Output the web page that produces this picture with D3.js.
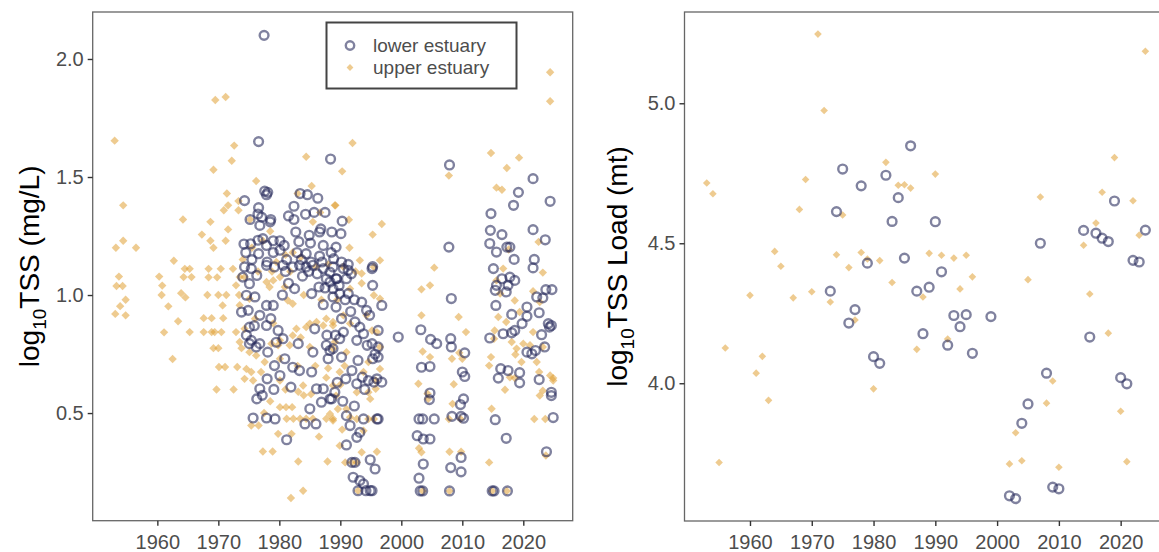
<!DOCTYPE html>
<html>
<head>
<meta charset="utf-8">
<script src="https://cdn.jsdelivr.net/npm/d3@7"></script>
<style>
  html, body { margin: 0; padding: 0; background: #fff; }
  svg { display: block; font-family: "Liberation Sans", Arial, Helvetica, sans-serif; }
</style>
</head>
<body>
<svg id="chart" width="1159" height="552"></svg>
<script>
// ---- data: [year, log10 value] ----
const lowerTSS = [
  [1977.5,2.10],[1976.6,1.65],[1988.4,1.576],[1974.3,1.40],[1977.6,1.44],[1978.1,1.435],[1977.9,1.425],[1976.6,1.37],
  [1983.4,1.43],[1984.6,1.425],[1986.3,1.41],[1982.4,1.376],[1984.3,1.342],[1985.7,1.35],[1987.5,1.35],[1975.2,1.32],
  [1976.5,1.343],[1977.1,1.33],[1978.6,1.32],[1981.5,1.335],[1976.8,1.295],[1978.5,1.31],[1986.8,1.28],[1982.4,1.32],
  [1982.7,1.267],[1986.6,1.267],[1988.6,1.267],[1984.9,1.253],[1974.2,1.216],[1975.3,1.217],[1976.5,1.232],[1977.3,1.239],
  [1977.9,1.21],[1979.0,1.23],[1980.1,1.23],[1980.8,1.21],[1983.2,1.226],[1985.1,1.22],[1987.2,1.21],[1974.5,1.18],
  [1976.6,1.175],[1979.0,1.18],[1980.1,1.19],[1981.2,1.15],[1982.9,1.18],[1984.4,1.175],[1986.6,1.165],[1988.5,1.18],
  [1975.5,1.15],[1978.0,1.14],[1983.6,1.15],[1985.2,1.14],[1987.0,1.14],
  [2007.9,1.551],[2007.8,1.203],[2021.6,1.493],[2019.2,1.435],[2018.4,1.38],[2024.4,1.397],[2014.7,1.345],[2014.6,1.274],
  [2016.5,1.256],[2014.5,1.218],[2017.3,1.203],[2017.8,1.203],[2021.6,1.277],[2023.6,1.234],[2015.6,1.182],[2018.5,1.151],
  [2021.8,1.151],[1990.3,1.313],[1990.1,1.26],[1989.3,1.203],[1995.3,1.12],[1990.2,1.14],[1991.3,1.13],[1988.9,1.154],
  [1974.3,1.119],[1975.4,1.112],[1976.3,1.083],[1977.9,1.126],[1979.2,1.119],[1980.6,1.126],[1982.2,1.119],[1983.3,1.126],
  [1984.4,1.119],[1985.5,1.126],[1987.2,1.112],[1988.3,1.097],[1989.3,1.069],[1987.7,1.069],[1975.1,1.048],[1974.0,1.076],
  [1974.6,0.999],[1976.0,0.992],[1973.8,0.928],[1974.9,0.935],[1977.9,0.956],[1979.0,0.956],[1982.5,1.027],[1985.3,1.006],
  [1986.5,1.034],[1987.2,0.959],[1988.8,0.992],[1989.3,0.949],[1976.8,0.914],[1975.1,0.864],[1977.9,0.871],[1979.8,0.850],
  [1983.1,0.794],[1980.6,0.815],[1985.8,0.857],[1985.5,0.758],[1975.4,0.808],[1976.8,0.794],[1975.1,0.794],[1978.1,0.758],
  [1979.2,0.701],[1980.9,0.730],[1980.1,0.659],[1982.2,0.694],[1983.3,0.680],[1985.3,0.674],[1978.0,0.645],[1979.1,0.600],
  [1981.9,0.610],[1976.8,0.603],[1976.3,0.560],[1977.2,0.575],[1986.1,0.603],[1987.2,0.603],[1988.3,0.560],[1986.9,0.546],
  [1985.0,0.518],[1975.7,0.479],[1977.9,0.479],[1979.3,0.475],[1984.2,0.454],[1986.0,0.454],[1981.2,0.387],[1988.3,0.765],
  [1987.7,0.787],
  [1981.0,1.10],[1981.5,1.05],[1980.5,1.00],[1983.8,1.08],[1984.8,1.10],[1986.2,1.09],[1987.5,1.03],[1989.8,1.04],
  [1990.8,0.98],[1990.2,0.90],[1991.7,0.93],[1992.3,0.98],[1991.8,1.09],[1989.2,0.83],[1987.8,0.83],[1974.6,0.83],
  [1975.9,0.87],[1976.2,0.78],[1978.6,0.90],[1979.5,0.80],[1988.0,0.73],[1989.5,0.63],[1990.4,0.55],[1992.3,0.53],
  [1995.7,0.75],[1994.0,0.60],
  [1988.8,1.119],[1990.5,1.112],[1991.3,1.105],[1989.4,1.069],[1991.0,1.069],[1988.3,1.055],[1988.8,1.027],[1989.9,1.006],
  [1991.3,1.006],[1995.2,1.112],[1995.3,1.041],[1993.5,0.970],[1994.3,0.935],[1994.8,0.914],[1996.8,0.956],[1992.4,0.886],
  [1993.2,0.864],[1990.5,0.843],[1989.9,0.815],[1993.8,0.836],[1995.2,0.794],[1996.2,0.850],[1992.7,0.808],[1994.4,0.787],
  [1996.2,0.780],[1988.8,0.773],[1990.2,0.737],[1992.9,0.723],[1995.3,0.730],[1996.2,0.737],[1991.9,0.680],[1990.9,0.645],
  [1993.6,0.652],[1994.6,0.638],[1996.0,0.645],[1995.5,0.631],[1992.7,0.624],[1996.8,0.631],[1989.1,0.588],[1988.6,0.560],
  [1991.0,0.489],[1993.8,0.475],[1996.0,0.475],[1996.2,0.475],[1991.6,0.447],[1993.2,0.418],[1992.7,0.397],[1991.0,0.365],
  [1991.9,0.291],[1992.4,0.291],[1994.9,0.302],[1995.7,0.263],[1992.1,0.228],[1993.2,0.214],[1993.8,0.200],[1992.9,0.171],
  [1994.2,0.171],[1994.9,0.171],[1995.2,0.171],
  [1999.5,0.822],
  [2003.2,0.853],[2004.8,0.812],[2005.8,0.794],[2003.3,0.694],[2004.7,0.697],[2002.9,0.475],[2003.5,0.475],[2005.4,0.475],
  [2002.6,0.404],[2003.6,0.390],[2004.7,0.390],[2003.6,0.284],[2002.9,0.224],[2003.1,0.170],[2003.5,0.170],[2004.7,0.585],
  [2004.6,0.557],
  [2008.2,0.985],[2008.1,0.815],[2008.2,0.780],[2008.3,0.486],[2009.8,0.486],[2010.2,0.478],[2010.4,0.755],[2010.4,0.655],
  [2010.0,0.674],[2010.2,0.560],[2009.7,0.536],[2009.8,0.312],[2009.8,0.251],[2008.1,0.269],[2007.9,0.170],
  [2015.1,1.112],[2016.5,1.069],[2017.8,1.076],[2018.6,1.062],[2015.6,1.041],[2015.4,1.020],[2017.5,1.041],[2017.2,1.013],
  [2015.5,0.956],[2018.1,0.918],[2020.6,0.949],[2022.6,0.925],[2020.6,0.910],[2019.8,0.879],[2018.6,0.850],[2018.1,0.840],
  [2016.7,0.836],[2014.5,0.818],[2023.0,0.832],[2024.6,0.871],[2024.1,0.879],[2024.3,0.864],[2022.2,0.992],[2023.2,0.988],
  [2023.7,1.023],[2024.7,1.023],[2021.6,1.115],[2023.5,0.780],[2020.6,0.758],[2022.0,0.765],[2021.4,0.751],[2016.3,0.688],
  [2017.5,0.680],[2015.9,0.648],[2019.4,0.671],[2019.4,0.628],[2022.6,0.642],[2024.6,0.588],[2024.6,0.574],[2015.4,0.472],
  [2024.9,0.481],[2017.2,0.393],[2023.8,0.336],[2014.9,0.170],[2015.2,0.170],[2017.4,0.170]
];

const upperTSS = [
  [1969.5,1.826],[1971.2,1.839],[1953.0,1.654],[1972.6,1.633],[1972.2,1.569],[1984.4,1.586],[1969.2,1.531],[1976.2,1.483],
  [1985.3,1.462],[1971.4,1.43],[1954.4,1.38],[1971.6,1.38],[1970.9,1.359],[1973.3,1.398],[1973.3,1.359],[1983.0,1.43],
  [1964.2,1.32],[1968.7,1.31],[1971.6,1.278],[1967.3,1.256],[1954.4,1.23],[1953.2,1.20],[1956.5,1.20],[1968.7,1.23],
  [1969.2,1.20],[1971.2,1.23],[1962.7,1.145],[1975.2,1.32],[1978.5,1.27],[1985.5,1.31],[1986.7,1.35],[1989.1,1.38],
  [1977.3,1.23],[1982.2,1.18],
  [1992.0,1.644],[1990.3,1.524],[2024.4,1.944],[2024.4,1.821],[2014.7,1.602],[2019.3,1.582],[2017.3,1.538],[2007.8,1.506],
  [2015.6,1.455],[2016.5,1.446],[1989.2,1.380],[1996.8,1.301],[1995.3,1.256],[1991.4,1.319],[2022.5,1.225],[1993.2,1.147],
  [1996.5,1.147],[2017.6,1.193],[2005.4,1.116],
  [1953.7,1.078],[1953.3,1.038],[1954.3,1.038],[1954.8,0.98],[1953.9,0.953],[1953.1,0.92],[1954.8,0.914],
  [1960.3,1.078],[1960.8,1.04],[1960.7,1.0],[1961.8,0.952],[1963.4,0.889],[1961.1,0.842],[1962.5,0.729],
  [1963.9,1.008],[1964.6,0.99],[1964.5,1.111],[1965.3,1.111],[1964.3,1.076],[1965.6,1.076],[1965.3,0.843],
  [1967.6,0.902],[1968.9,0.902],[1967.6,0.843],[1968.9,0.843],[1970.5,0.843],[1969.4,0.843],
  [1968.4,1.111],[1970.4,1.111],[1968.4,1.075],[1969.8,1.075],[1968.2,1.0],[1970.0,1.0],[1971.3,1.0],
  [1970.7,0.956],[1970.8,0.902],[1969.2,0.775],[1970.0,0.775],[1970.1,0.695],[1971.1,0.695],[1969.7,0.6],[1972.5,0.6],
  [1972.4,1.111],[1973.5,1.076],[1972.9,1.041],[1973.4,1.0],[1973.5,0.957],[1972.9,0.843],[1973.8,0.775],[1973.1,0.695],
  [1975.4,0.447],[1976.6,0.447],[1977.3,0.337],[1978.9,0.337],[1979.8,0.412],[1982.0,0.412],[1981.9,0.14],[1983.9,0.171],
  [1983.1,0.295],[1987.9,0.295],[1980.1,0.525],[1981.1,0.525],[1982.1,0.525],
  [1981.2,0.476],[1982.3,0.476],[1983.4,0.476],[1984.4,0.476],[1985.5,0.476],[1987.7,0.476],[1988.8,0.476],
  [1987.7,0.65],[1983.1,0.59],[1984.0,0.575],
  [1977.9,1.055],[1978.4,1.034],[1979.0,1.062],[1980.1,1.076],[1980.9,1.034],[1981.4,0.977],[1982.2,0.963],[1982.8,0.857],
  [1984.4,0.864],[1985.0,0.879],[1986.1,0.886],[1987.2,0.871],[1987.7,0.900],[1988.8,0.886],[1982.2,0.829],[1980.1,0.808],
  [1978.7,0.794],[1979.8,0.787],[1981.7,0.787],[1985.0,0.780],[1988.8,0.773],[1980.1,0.730],[1976.2,0.744],[1977.6,0.716],
  [1974.6,0.687],[1975.4,0.674],[1977.0,0.674],[1980.1,0.638],[1975.7,0.638],[1974.3,0.645],[1983.9,0.617],[1988.8,0.617],
  [1989.3,0.574],[1988.3,0.496],[1974.3,1.076],[1975.1,0.984],[1974.3,0.857],[1973.5,0.801],[1975.1,0.758],
  [1974.0,1.15],[1975.5,1.20],[1979.5,1.14],[1981.0,1.17],[1983.5,1.16],[1986.0,1.12],[1988.0,1.13],[1990.5,1.12],
  [1991.5,1.20],[1992.5,1.10],[1993.5,1.05],
  [1976.5,1.10],[1978.8,1.10],[1981.8,1.10],[1984.0,1.00],[1986.9,0.98],[1989.5,0.98],[1976.0,0.90],[1979.0,0.88],
  [1983.0,0.70],[1985.9,0.70],[1988.0,0.69],[1990.0,0.62],[1981.0,0.60],[1985.2,0.58],[1977.5,0.50],[1990.3,0.43],
  [1986.5,0.40],[1978.5,0.55],[1983.5,0.82],[1990.7,0.70],
  [2003.3,1.024],[2004.7,1.041],[2003.3,0.914],[2009.4,0.907],[2010.6,0.843],[2003.5,0.761],[2004.7,0.737],[2002.8,0.624],
  [2008.6,0.622],[2009.5,0.755],[2010.0,0.730],[2008.3,0.730],[2004.3,0.582],[2004.4,0.560],[2008.4,0.539],[2007.8,0.475],
  [2009.7,0.475],[2002.9,0.351],[2003.3,0.334],[2007.9,0.336],[2009.8,0.336],[2014.4,0.291],[2014.9,0.170],[2017.3,0.170],
  [2007.9,0.170],[2003.5,0.170],[2014.8,0.518],[2021.8,0.475],[2023.6,0.475],[2023.7,0.320],[2017.0,0.599],[2017.8,0.652],
  [2018.6,0.648],[2014.4,0.701],[2014.7,0.737],[2015.2,0.815],[2015.3,0.850],[2015.9,0.907],[2016.2,1.006],[2015.6,1.062],
  [2016.7,1.112],[2021.6,1.016],[2022.7,0.970],[2023.2,1.095],[2018.6,0.977],[2019.4,0.928],[2017.2,0.886],[2018.1,0.801],
  [2018.9,0.773],[2020.0,0.794],[2021.1,0.787],[2021.6,0.843],[2022.2,0.716],[2022.6,0.674],[2023.2,0.780],[2024.4,0.659],
  [2024.9,0.648],[2023.2,0.595],[2024.9,0.638],[2022.7,0.574],[2019.7,0.716],[2018.7,0.748],
  [1993.5,1.091],[1995.5,0.999],[1996.5,0.984],[1996.0,0.843],[1996.5,0.780],[1990.5,0.914],[1991.6,1.027],[1989.1,0.801],
  [1989.9,0.674],[1994.6,0.716],[1992.7,0.588],[1994.6,0.588],[1994.9,0.560],[1991.0,0.517],[1989.6,0.517],[1991.6,0.482],
  [1992.7,0.475],[1994.6,0.475],[1995.5,0.475],[1989.9,0.362],[1993.5,0.334],[1996.0,0.336],[1991.9,0.291],[1992.7,0.291],
  [1990.8,0.291],[1992.9,0.171],[1993.8,0.425],[1988.8,0.468],[1995.8,0.638],[1995.8,0.603],[1993.8,0.674],[1996.5,0.687],
  [1991.0,0.758],[1995.2,0.850],[1994.3,0.914],[1988.8,0.871],[1995.5,1.119],[1991.6,0.879]
];

const lowerLoad = [
  [1973,4.329],[1974,4.613],[1975,4.765],[1976,4.215],[1977,4.263],[1978,4.705],[1979,4.429],[1980,4.095],
  [1981,4.071],[1982,4.743],[1983,4.578],[1984,4.663],[1985,4.447],[1986,4.848],[1987,4.329],[1988,4.177],
  [1989,4.343],[1990,4.577],[1991,4.398],[1992,4.136],[1993,4.242],[1994,4.202],[1995,4.245],[1996,4.107],
  [1999,4.238],[2002,3.598],[2003,3.588],[2004,3.857],[2005,3.926],[2007,4.500],[2008,4.036],[2009,3.629],
  [2010,3.623],[2014,4.546],[2015,4.165],[2016,4.536],[2017,4.518],[2018,4.506],[2019,4.651],[2020,4.020],
  [2021,3.998],[2022,4.439],[2023,4.433],[2024,4.547]
];

const upperLoad = [
  [1953,4.715],[1954,4.677],[1955,3.717],[1956,4.126],[1960,4.314],[1961,4.036],[1962,4.096],[1963,3.939],
  [1964,4.471],[1965,4.418],[1967,4.305],[1968,4.621],[1969,4.728],[1970,4.327],[1971,5.247],[1972,4.974],
  [1973,4.290],[1974,4.459],[1975,4.601],[1976,4.413],[1977,4.226],[1978,4.467],[1979,4.444],[1980,3.980],
  [1981,4.438],[1982,4.789],[1983,4.360],[1984,4.707],[1985,4.709],[1986,4.697],[1987,4.121],[1988,4.308],
  [1989,4.464],[1990,4.747],[1991,4.457],[1992,4.158],[1993,4.447],[1994,4.337],[1995,4.457],[1996,4.380],
  [2002,3.712],[2003,3.823],[2004,3.723],[2005,4.370],[2007,4.665],[2008,3.929],[2009,4.008],[2010,3.700],
  [2014,4.493],[2015,4.319],[2016,4.572],[2017,4.682],[2018,4.179],[2019,4.806],[2020,3.900],[2021,3.720],
  [2022,4.652],[2023,4.529],[2024,5.186]
];

const yearTicks = [1960, 1970, 1980, 1990, 2000, 2010, 2020];
const tssTicks = [0.5, 1.0, 1.5, 2.0];
const loadTicks = [4.0, 4.5, 5.0];
const seriesNames = ["lower estuary", "upper estuary"];

// ---- styling ----
const lowerColor = "#242759", lowerOpacity = 0.58;
const upperColor = "#E0A035", upperOpacity = 0.55;
const axisGrey = "#4D4D4D";

const svg = d3.select("#chart");

// rotated square centred at 0,0
function diamondPath(r) {
  return `M0,${-r}L${r},0L0,${r}L${-r},0Z`;
}

function panel(opts) {
  const { x0, x1, y0, y1, yDomain, yTicks, lower, upper, title, titleX, circleR, diamondR, id } = opts;
  const x = d3.scaleLinear().domain([1949.4, 2028.1]).range([x0, x1]);
  const y = d3.scaleLinear().domain(yDomain).range([y1, y0]);

  const g = svg.append("g");
  svg.append("clipPath").attr("id", id).append("rect")
    .attr("x", x0).attr("y", y0).attr("width", x1 - x0).attr("height", y1 - y0);

  const pts = g.append("g").attr("clip-path", `url(#${id})`);

  pts.selectAll("path.upper").data(upper).join("path")
    .attr("class", "upper")
    .attr("d", diamondPath(diamondR))
    .attr("transform", d => `translate(${x(d[0])},${y(d[1])})`)
    .attr("fill", upperColor).attr("fill-opacity", upperOpacity);

  pts.selectAll("circle.lower").data(lower).join("circle")
    .attr("class", "lower")
    .attr("cx", d => x(d[0])).attr("cy", d => y(d[1])).attr("r", circleR)
    .attr("fill", "none").attr("stroke", lowerColor)
    .attr("stroke-opacity", lowerOpacity).attr("stroke-width", 2.4);

  // panel border
  g.append("rect").attr("x", x0).attr("y", y0).attr("width", x1 - x0).attr("height", y1 - y0)
    .attr("fill", "none").attr("stroke", "#666").attr("stroke-width", 1.3);

  const xAxis = g.append("g").attr("transform", `translate(0,${y1})`)
    .call(d3.axisBottom(x).tickValues(yearTicks).tickFormat(d3.format("d")).tickSize(5).tickPadding(4));
  const yAxis = g.append("g").attr("transform", `translate(${x0},0)`)
    .call(d3.axisLeft(y).tickValues(yTicks).tickFormat(d3.format(".1f")).tickSize(5).tickPadding(4));
  [xAxis, yAxis].forEach(a => {
    a.select(".domain").remove();
    a.selectAll(".tick line").attr("stroke", "#333").attr("stroke-width", 1.4);
    a.selectAll(".tick text").attr("fill", axisGrey).attr("font-size", 20)
      .attr("font-family", "'Liberation Sans', Arial, sans-serif");
  });
  xAxis.selectAll(".tick text").attr("dy", "0.95em");

  // rotated axis title with subscript
  const t = g.append("text")
    .attr("transform", `translate(${titleX},${(y0 + y1) / 2}) rotate(-90)`)
    .attr("text-anchor", "middle").attr("font-size", 28).attr("fill", "#000");
  t.append("tspan").text("log");
  t.append("tspan").attr("font-size", 19).attr("dy", 7).text("10");
  t.append("tspan").attr("dy", -7).text(title);
  return { x, y, g };
}

panel({
  id: "clipL", x0: 92.7, x1: 572.7, y0: 12, y1: 520.7,
  yDomain: [0.044, 2.199], yTicks: tssTicks,
  lower: lowerTSS, upper: upperTSS, title: "TSS (mg/L)", titleX: 39,
  circleR: 4.4, diamondR: 4.2
});

panel({
  id: "clipR", x0: 684.5, x1: 1170.7, y0: 12, y1: 521,
  yDomain: [3.508, 5.326], yTicks: loadTicks,
  lower: lowerLoad, upper: upperLoad, title: "TSS Load (mt)", titleX: 627,
  circleR: 4.4, diamondR: 3.8
});

// legend
const leg = svg.append("g");
leg.append("rect").attr("x", 326.5).attr("y", 22.5).attr("width", 190).attr("height", 66)
  .attr("fill", "#fff").attr("stroke", "#444").attr("stroke-width", 2);
const rows = leg.selectAll("g.row").data(seriesNames).join("g")
  .attr("transform", (d, i) => `translate(350,${45.5 + i * 22})`);
rows.filter((d, i) => i === 0).append("circle").attr("r", 4.2).attr("fill", "none")
  .attr("stroke", lowerColor).attr("stroke-opacity", lowerOpacity).attr("stroke-width", 2.4);
rows.filter((d, i) => i === 1).append("path").attr("d", diamondPath(3.4))
  .attr("fill", upperColor).attr("fill-opacity", upperOpacity);
rows.append("text").attr("x", 23).attr("dy", "0.33em").attr("font-size", 19)
  .attr("fill", axisGrey).text(d => d);
</script>
</body>
</html>
